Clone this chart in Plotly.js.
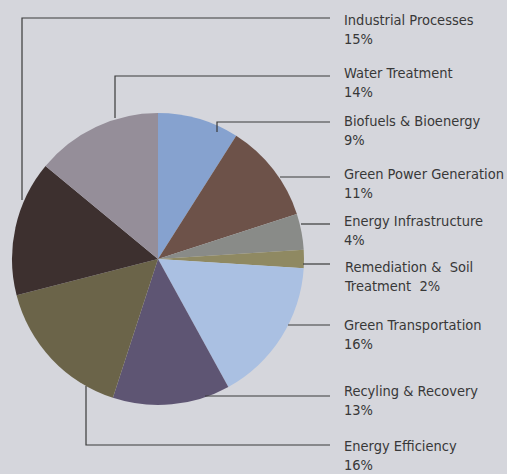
<!DOCTYPE html>
<html>
<head>
<meta charset="utf-8">
<script src="https://cdn.plot.ly/plotly-3.0.1.min.js"></script>
<style>html,body{margin:0;padding:0;background:#d5d6dc;}</style>
</head>
<body>
<div id="chart" style="width:507px;height:474px;"></div>
<script>
// Data (clockwise from 12 o'clock)
var categories = ["Biofuels & Bioenergy", "Green Power Generation", "Energy Infrastructure",
  "Remediation & Soil Treatment", "Green Transportation", "Recyling & Recovery",
  "Energy Efficiency", "Industrial Processes", "Water Treatment"];
var shares = [9, 11, 4, 2, 16, 13, 16, 15, 14];
var sliceColors = ["#86a2cf", "#6d5249", "#898b88", "#8f8962", "#aac0e2", "#5e5573",
  "#6b6449", "#3d302f", "#958e99"];
// Label list order (top to bottom on the right)
var labelOrder = ["Industrial Processes", "Water Treatment", "Biofuels & Bioenergy",
  "Green Power Generation", "Energy Infrastructure", "Remediation & Soil Treatment",
  "Green Transportation", "Recyling & Recovery", "Energy Efficiency"];

var W = 507, H = 474;
function px(x){ return x / W; }
function py(y){ return 1 - y / H; }

// label layout (pixel centers of two-line label blocks) and leader line paths
var labelY = [29, 82, 130, 184, 231, 276, 334, 400, 455];
var leaders = [
  [[330,18],[22,18],[22,200]],
  [[330,76],[115,76],[115,118]],
  [[330,122],[217,122],[217,132]],
  [[330,177],[280,177]],
  [[330,224],[301,224]],
  [[330,264],[303,264]],
  [[330,325],[288,325]],
  [[330,396],[205,396]],
  [[330,445],[86,445],[86,386]]
];

var annotations = labelOrder.map(function(name, i){
  var v = shares[categories.indexOf(name)];
  var txt;
  if (name === "Remediation & Soil Treatment") {
    txt = "Remediation &amp;  Soil<br>Treatment  " + v + "%";
  } else {
    txt = name.replace("&", "&amp;") + "<br>" + v + "%";
  }
  return {
    xref: "paper", yref: "paper", x: px(342), y: py(labelY[i]),
    xanchor: "left", yanchor: "middle", align: "left", showarrow: false,
    text: txt,
    font: {family: "DejaVu Sans Condensed, sans-serif", size: 14.5, color: "#383838"}
  };
});

var shapes = leaders.map(function(pts){
  var d = pts.map(function(p, k){ return (k ? "L" : "M") + px(p[0]) + "," + py(p[1]); }).join(" ");
  return {type: "path", xref: "paper", yref: "paper", path: d,
          line: {color: "#3a3a3a", width: 1.2}};
});

var trace = {
  type: "pie",
  labels: categories,
  values: shares,
  sort: false,
  direction: "clockwise",
  rotation: 0,
  textinfo: "none",
  hoverinfo: "label+percent",
  marker: {colors: sliceColors, line: {width: 0}},
  domain: {x: [px(12), px(304)], y: [py(405), py(113)]}
};

var layout = {
  width: W, height: H,
  margin: {l: 0, r: 0, t: 0, b: 0},
  paper_bgcolor: "#d5d6dc",
  plot_bgcolor: "#d5d6dc",
  showlegend: false,
  annotations: annotations,
  shapes: shapes
};

Plotly.newPlot("chart", [trace], layout, {displayModeBar: false, staticPlot: true});
</script>
</body>
</html>
